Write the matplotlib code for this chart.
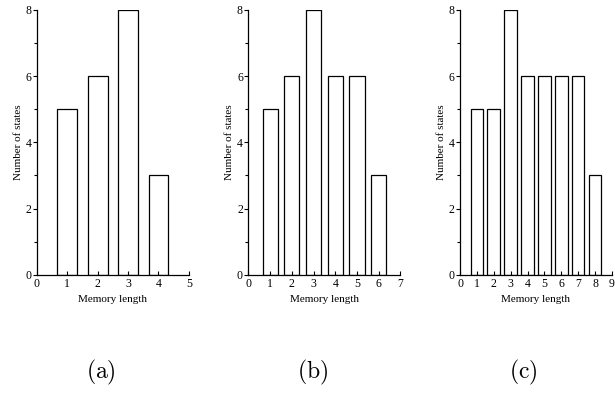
import matplotlib
matplotlib.use('Agg')
import matplotlib.pyplot as plt
from matplotlib.ticker import MultipleLocator

plt.rcParams['font.family'] = ['Liberation Serif', 'DejaVu Serif']
plt.rcParams['mathtext.fontset'] = 'cm'

# data for the three panels
len_a = [1, 2, 3, 4]
states_a = [5, 6, 8, 3]
len_b = [1, 2, 3, 4, 5, 6]
states_b = [5, 6, 8, 6, 6, 3]
len_c = [1, 2, 3, 4, 5, 6, 7, 8]
states_c = [5, 5, 8, 6, 6, 6, 6, 3]
captions = ['(a)', '(b)', '(c)']

fig = plt.figure(figsize=(6.15, 3.96), dpi=100)

panels = [(len_a, states_a, 5, 0.65, 0.060),
          (len_b, states_b, 7, 0.70, 0.404),
          (len_c, states_c, 9, 0.75, 0.748)]

for (x, y, xmax, w, left), cap in zip(panels, captions):
    ax = fig.add_axes([left, 0.306, 0.247, 0.669])
    ax.bar(x, y, width=w, color='white', edgecolor='black', linewidth=0.9)
    ax.set_xlim(0, xmax)
    ax.set_ylim(0, 8)
    ax.xaxis.set_major_locator(MultipleLocator(1))
    ax.yaxis.set_major_locator(MultipleLocator(2))
    ax.yaxis.set_minor_locator(MultipleLocator(1))
    ax.spines['top'].set_visible(False)
    ax.spines['right'].set_visible(False)
    for s in ['left', 'bottom']:
        ax.spines[s].set_linewidth(0.9)
    ax.tick_params(axis='x', direction='in', length=3, width=0.8, labelsize=8.5, pad=2)
    ax.tick_params(axis='y', which='major', direction='out', length=3, width=0.8, labelsize=8.5, pad=1)
    ax.tick_params(axis='y', which='minor', direction='out', length=2, width=0.8)
    ax.set_xlabel('Memory length', fontsize=8, labelpad=4)
    ax.set_ylabel('Number of states', fontsize=8, labelpad=2)
    cx = left + 0.247 / 2 - 0.02
    fig.text(cx, 0.06, r'$\mathrm{' + cap + '}$', fontsize=17, ha='center', va='center')

fig.savefig('out.png', dpi=100)
